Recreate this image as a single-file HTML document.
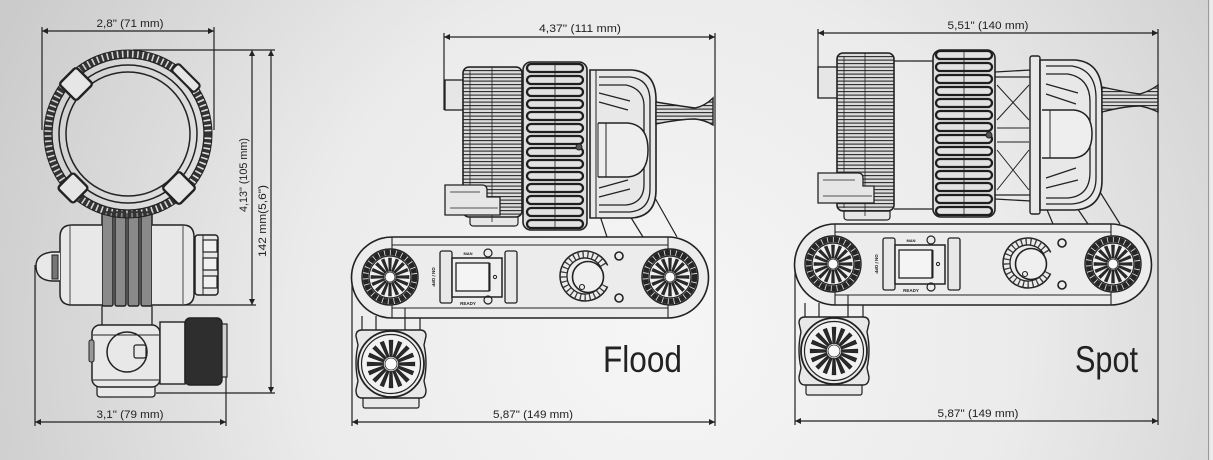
<!DOCTYPE html>
<html><head><meta charset="utf-8">
<style>
html,body{margin:0;padding:0;width:1213px;height:460px;overflow:hidden;background:#e4e4e4}
svg{display:block}
text{font-family:"Liberation Sans",sans-serif;fill:#222}
</style></head><body>
<svg width="1213" height="460" viewBox="0 0 1213 460" xmlns="http://www.w3.org/2000/svg">
<defs>
<radialGradient id="bg" cx="660" cy="330" r="720" gradientUnits="userSpaceOnUse">
<stop offset="0" stop-color="#f6f6f6"/>
<stop offset="0.5" stop-color="#ebebeb"/>
<stop offset="1" stop-color="#cbcbcb"/>
</radialGradient>
<marker id="ar" markerUnits="userSpaceOnUse" viewBox="0 0 10 10" refX="10" refY="5" markerWidth="8" markerHeight="6" orient="auto-start-reverse"><path d="M0,0L10,5L0,10z" fill="#222"/></marker>
<pattern id="hl" width="6" height="3.5" patternUnits="userSpaceOnUse"><rect width="6" height="3.5" fill="#dcdcdc"/><line x1="0" y1="0.6" x2="6" y2="0.6" stroke="#2a2a2a" stroke-width="1.1"/></pattern>
<path id="pet" d="M-0.9,-6 L-1.5,-19 L1.5,-19 L0.9,-6Z" fill="#2a2a2a" stroke="#222" stroke-width="0.6"/>
<g id="star">
<use href="#pet"/><use href="#pet" transform="rotate(22.5)"/><use href="#pet" transform="rotate(45)"/><use href="#pet" transform="rotate(67.5)"/>
<use href="#pet" transform="rotate(90)"/><use href="#pet" transform="rotate(112.5)"/><use href="#pet" transform="rotate(135)"/><use href="#pet" transform="rotate(157.5)"/>
<use href="#pet" transform="rotate(180)"/><use href="#pet" transform="rotate(202.5)"/><use href="#pet" transform="rotate(225)"/><use href="#pet" transform="rotate(247.5)"/>
<use href="#pet" transform="rotate(270)"/><use href="#pet" transform="rotate(292.5)"/><use href="#pet" transform="rotate(315)"/><use href="#pet" transform="rotate(337.5)"/>
</g>
<g id="knobA">
<circle r="28" fill="#e9e9e9" stroke="#222" stroke-width="1.4"/>
<circle r="24.5" fill="none" stroke="#262626" stroke-width="5.5" stroke-dasharray="5 0.8"/>
<circle r="21" fill="#f0f0f0" stroke="#222" stroke-width="1.2"/>
<use href="#star"/>
<circle r="5" fill="#fafafa" stroke="#222" stroke-width="0.8"/>
</g>
<g id="knobB">
<circle r="33" fill="#ececec" stroke="#222" stroke-width="1.8"/>
<circle r="29.5" fill="#f2f2f2" stroke="#222" stroke-width="1.2"/>
<use href="#star" transform="scale(1.25)"/>
<circle r="6" fill="#fafafa" stroke="#222" stroke-width="0.8"/>
</g>
<g id="ribs" fill="#e2e2e2" stroke="#1e1e1e" stroke-width="2.3">
<rect x="0" y="-4" width="56" height="8" rx="4"/><rect x="0" y="8" width="56" height="8" rx="4"/>
<rect x="0" y="20" width="56" height="8" rx="4"/><rect x="0" y="32" width="56" height="8" rx="4"/>
<rect x="0" y="44" width="56" height="8" rx="4"/><rect x="0" y="56" width="56" height="8" rx="4"/>
<rect x="0" y="68" width="56" height="8" rx="4"/><rect x="0" y="80" width="56" height="8" rx="4"/>
<rect x="0" y="92" width="56" height="8" rx="4"/><rect x="0" y="104" width="56" height="8" rx="4"/>
<rect x="0" y="116" width="56" height="8" rx="4"/><rect x="0" y="128" width="56" height="8" rx="4"/>
<rect x="0" y="140" width="56" height="8" rx="4"/><rect x="0" y="152" width="56" height="8" rx="4"/>
</g>
<g id="base" stroke="#222" fill="none">
<path d="M362,316 L362,332 M376,316 L376,334 M405,316 L405,334 M420,316 L420,332" stroke-width="1.2"/>
<rect x="363" y="396" width="56" height="12" rx="2" fill="#e8e8e8" stroke-width="1.2"/>
<path d="M362,330 L420,330 Q426,330 426,336 L424,345 Q428,363 424,381 L426,390 Q426,398 420,398 L362,398 Q356,398 356,390 L358,381 Q354,363 358,345 L356,336 Q356,330 362,330Z" fill="#e8e8e8" stroke-width="1.4"/>
<use href="#knobB" x="391" y="364"/>
<path d="M392,237 L668,237 A40.5,40.5 0 0 1 668,318 L392,318 A40.5,40.5 0 0 1 392,237Z" fill="#ececec" stroke-width="1.6"/>
<path d="M392,245 L668,245 M392,308 L668,308 M392,237 L392,250 M392,305 L392,318 M668,237 L668,250 M668,305 L668,318 M405,308 L405,318" stroke-width="1.1"/>
<use href="#knobA" x="390" y="277"/>
<use href="#knobA" x="670" y="277"/>
<rect x="440" y="251" width="12" height="52" rx="2" fill="#e8e8e8" stroke-width="1.3"/>
<rect x="505" y="251" width="12" height="52" rx="2" fill="#e8e8e8" stroke-width="1.3"/>
<rect x="452" y="258" width="50" height="39" fill="#eeeeee" stroke-width="1.5"/>
<rect x="456" y="263" width="33" height="28" fill="#f4f4f4" stroke-width="1.3"/>
<path d="M490,263 V291" stroke-width="1"/>
<circle cx="495" cy="277" r="1.6" stroke-width="1"/>
<circle cx="488" cy="253" r="4" stroke-width="1.2"/>
<circle cx="488" cy="300" r="4" stroke-width="1.2"/>
<g transform="translate(585,276)">
<path d="M22.66,10.57 A25,25 0 1 1 22.66,-10.57" stroke-width="1.5"/>
<path d="M19.48,9.09 A21.5,21.5 0 1 1 19.48,-9.09" stroke="#3a3a3a" stroke-width="7" stroke-dasharray="1.3 3.4"/>
<path d="M16.31,7.61 A18,18 0 1 1 16.31,-7.61" stroke-width="1.3"/>
<circle cx="3" cy="1" r="15.5" fill="#efefef" stroke-width="1.6"/>
<circle cx="-3" cy="11" r="2.5" stroke-width="1.1"/>
</g>
<circle cx="619" cy="256" r="4" stroke-width="1.6"/>
<circle cx="619" cy="298" r="4" stroke-width="1.6"/>
</g>
<g id="basetext">
<text x="468" y="255" font-size="4" text-anchor="middle" font-weight="bold">MAN</text>
<text x="468" y="305" font-size="4.5" text-anchor="middle" font-weight="bold">READY</text>
<text transform="translate(432,277) rotate(90)" font-size="4.5" text-anchor="middle" font-weight="bold">ON / OFF</text>
</g>
</defs>

<rect width="1213" height="460" fill="url(#bg)"/>
<rect x="1208" y="0" width="1.2" height="460" fill="#9a9a9a"/>
<rect x="1209.2" y="0" width="4" height="460" fill="#ececec"/>

<!-- ============ LEFT VIEW ============ -->
<g stroke="#222" fill="none">
<rect x="102" y="212" width="11" height="94" rx="2" fill="#8a8a8a" stroke-width="1.5"/>
<rect x="115" y="212" width="11" height="94" rx="2" fill="#8a8a8a" stroke-width="1.5"/>
<rect x="128" y="212" width="11" height="94" rx="2" fill="#8a8a8a" stroke-width="1.5"/>
<rect x="141" y="212" width="11" height="94" rx="2" fill="#8a8a8a" stroke-width="1.5"/>
<path d="M102,225 L72,225 Q60,225 60,237 L60,294 Q60,305 72,305 L102,305 M152,225 L183,225 Q194,225 194,237 L194,294 Q194,305 183,305 L152,305" fill="#e8e8e8" stroke-width="1.5"/>
<path d="M70,226 V304 M183,226 V304" stroke-width="0.8"/>
<path d="M60,252 L52,252 Q36,254 36,266 Q36,280 52,281 L60,281" fill="#e8e8e8" stroke-width="1.4"/>
<rect x="52" y="255" width="6" height="24" fill="#777" stroke-width="1"/>
<rect x="195" y="235" width="23" height="60" rx="3" fill="#e8e8e8" stroke-width="1.5"/>
<path d="M203,235 V295" stroke-width="1"/>
<rect x="203" y="240" width="14" height="12" fill="#f0f0f0" stroke-width="1.2"/>
<rect x="203" y="258" width="14" height="12" fill="#f0f0f0" stroke-width="1.2"/>
<rect x="203" y="276" width="14" height="12" fill="#f0f0f0" stroke-width="1.2"/>
<path d="M102,306 V325 M152,306 V325" stroke-width="1.3"/>
<rect x="97" y="384" width="58" height="13" rx="3" fill="#e8e8e8" stroke-width="1.3"/>
<rect x="92" y="325" width="68" height="62" rx="8" fill="#e8e8e8" stroke-width="1.5"/>
<path d="M93,335 H159 M93,380 H159" stroke-width="1"/>
<rect x="89" y="340" width="5" height="22" rx="2" fill="#999" stroke-width="1"/>
<circle cx="127" cy="352" r="20" stroke-width="1.5"/>
<rect x="134" y="345" width="12" height="13" rx="2" fill="#e8e8e8" stroke-width="1.2"/>
<rect x="160" y="322" width="25" height="62" fill="#e8e8e8" stroke-width="1.4"/>
<rect x="185" y="318" width="37" height="67" rx="5" fill="#2e2e2e" stroke-width="1.4"/>
<rect x="222" y="324" width="5" height="53" fill="#cfcfcf" stroke-width="1.2"/>
<circle cx="128" cy="134" r="80" stroke="#333" stroke-width="8" stroke-dasharray="3.5 1.6"/>
<circle cx="128" cy="134" r="84" stroke-width="1"/>
<circle cx="128" cy="134" r="76" stroke-width="1.3"/>
<circle cx="128" cy="134" r="69" stroke-width="1.5"/>
<circle cx="128" cy="134" r="62" stroke-width="1.5"/>
<rect x="-12" y="-12" width="24" height="24" rx="3" transform="translate(76,84) rotate(45)" fill="#e6e6e6" stroke-width="2.4"/>
<rect x="-16" y="-5" width="32" height="10" rx="3" transform="translate(186,78) rotate(45)" fill="#e6e6e6" stroke-width="2.2"/>
<rect x="-11" y="-11" width="22" height="22" rx="3" transform="translate(73,188) rotate(45)" fill="#e6e6e6" stroke-width="2.4"/>
<rect x="-12" y="-12" width="24" height="24" rx="3" transform="translate(179,188) rotate(45)" fill="#e6e6e6" stroke-width="2.4"/>
</g>
<g stroke="#222" stroke-width="1.2" fill="none">
<line x1="42" y1="31" x2="214" y2="31" marker-start="url(#ar)" marker-end="url(#ar)"/>
<path d="M42,27 V130 M214,27 V130 M133,50 H275 M185,305 H256 M156,393 H275 M35,265 V426 M226,377 V426"/>
<line x1="252" y1="50" x2="252" y2="305" marker-start="url(#ar)" marker-end="url(#ar)"/>
<line x1="271" y1="50" x2="271" y2="393" marker-start="url(#ar)" marker-end="url(#ar)"/>
<line x1="35" y1="422" x2="226" y2="422" marker-start="url(#ar)" marker-end="url(#ar)"/>
</g>
<text x="130" y="27" font-size="11" text-anchor="middle" textLength="67" lengthAdjust="spacingAndGlyphs">2,8" (71 mm)</text>
<text transform="translate(247,175) rotate(-90)" font-size="11" text-anchor="middle" textLength="74" lengthAdjust="spacingAndGlyphs">4,13" (105 mm)</text>
<text transform="translate(266,221) rotate(-90)" font-size="11" text-anchor="middle" textLength="72" lengthAdjust="spacingAndGlyphs">142 mm(5,6")</text>
<text x="130" y="418" font-size="11" text-anchor="middle" textLength="67" lengthAdjust="spacingAndGlyphs">3,1" (79 mm)</text>

<!-- ============ FLOOD ============ -->
<use href="#base"/>
<use href="#basetext"/>
<g stroke="#222" fill="none">
<path d="M600,216 L607,237 M630,216 L643,237 M655,198 L677,237" stroke-width="1.2"/>
<rect x="445" y="80" width="20" height="30" fill="#e6e6e6" stroke-width="1.3"/>
<rect x="470" y="212" width="48" height="14" rx="3" fill="#e6e6e6" stroke-width="1.2"/>
<rect x="463" y="67" width="59" height="150" rx="6" fill="url(#hl)" stroke-width="1.6"/>
<path d="M492,67 V222 M470,70 V214" stroke-width="0.8"/>
<path d="M445,185 L482,185 Q487,185 487,190 L487,197 L500,197 L500,215 L445,215 Z" fill="#e6e6e6" stroke-width="1.3"/>
<path d="M450,192 H480 M450,208 H498" stroke-width="0.8"/>
<rect x="523" y="62" width="64" height="168" rx="8" fill="#dedede" stroke-width="1.6"/>
<use href="#ribs" x="527" y="68"/>
<path d="M555,62 V230" stroke-width="0.8"/>
<circle cx="579" cy="147" r="3" fill="#555" stroke-width="1"/>
<path d="M590,70 L632,70 Q656,72 656,100 L656,190 Q656,216 632,218 L590,218 Z" fill="#e8e8e8" stroke-width="1.6"/>
<path d="M596,70 V218" stroke-width="1"/>
<path d="M599,77 L630,77 Q650,79 650,101 L650,189 Q650,210 630,212 L599,212" stroke-width="1.3"/>
<path d="M599,85 L626,85 Q644,89 644,106 L644,184 Q644,203 626,205 L599,205" stroke-width="1.3"/>
<path d="M599,93 L630,101 M599,102 L628,110 M599,197 L630,189 M599,188 L628,180" stroke-width="1.3"/>
<path d="M598,123 L628,123 Q648,125 648,150 Q648,175 628,177 L598,177" fill="#eeeeee" stroke-width="1.5"/>
<path d="M606,123 V177 M598,123 V177" stroke-width="1"/>
<path d="M656,102 Q680,106 695,108 Q705,106 713,98 L713,125 Q705,120 695,119 Q680,119 656,124 Z" fill="url(#hl)" stroke-width="1.4"/>
</g>
<g stroke="#222" stroke-width="1.2" fill="none">
<line x1="444" y1="37" x2="715" y2="37" marker-start="url(#ar)" marker-end="url(#ar)"/>
<path d="M444,33 V110 M715,33 V426 M352,282 V426"/>
<line x1="352" y1="422" x2="715" y2="422" marker-start="url(#ar)" marker-end="url(#ar)"/>
</g>
<text x="580" y="32" font-size="11" text-anchor="middle" textLength="82" lengthAdjust="spacingAndGlyphs">4,37" (111 mm)</text>
<text x="533" y="418" font-size="11" text-anchor="middle" textLength="80" lengthAdjust="spacingAndGlyphs">5,87" (149 mm)</text>
<text x="603" y="372" font-size="37" textLength="79" lengthAdjust="spacingAndGlyphs">Flood</text>

<!-- ============ SPOT ============ -->
<use href="#base" transform="translate(443,-13)"/>
<use href="#basetext" transform="translate(443,-13)"/>
<g stroke="#222" fill="none">
<path d="M1045,205 L1053,224 M1075,205 L1088,224 M1100,192 L1120,224" stroke-width="1.2"/>
<rect x="818" y="67" width="22" height="31" fill="#e6e6e6" stroke-width="1.3"/>
<rect x="844" y="208" width="46" height="12" rx="3" fill="#e6e6e6" stroke-width="1.2"/>
<rect x="837" y="53" width="57" height="158" rx="6" fill="url(#hl)" stroke-width="1.6"/>
<path d="M865,53 V216 M844,56 V208" stroke-width="0.8"/>
<path d="M818,173 L858,173 Q863,173 863,178 L863,186 L874,186 L874,203 L818,203 Z" fill="#e6e6e6" stroke-width="1.3"/>
<path d="M823,180 H855 M823,196 H872" stroke-width="0.8"/>
<path d="M894,61 H933 M894,209 H933" stroke-width="1.2"/>
<rect x="933" y="50" width="62" height="167" rx="8" fill="#dedede" stroke-width="1.6"/>
<use href="#ribs" x="936" y="55"/>
<path d="M964,50 V217" stroke-width="0.8"/>
<circle cx="989" cy="135" r="3" fill="#555" stroke-width="1"/>
<path d="M995,72 L1031,70 M995,77 L1031,77 M995,195 L1031,195 M995,199 L1031,201" stroke-width="1.3"/>
<path d="M997,85 L1029,120 M997,120 L1029,85 M997,150 L1029,190 M997,190 L1029,150 M997,128 H1029 M997,142 H1029" stroke-width="1"/>
<rect x="1030" y="56" width="10" height="158" rx="2" fill="#e8e8e8" stroke-width="1.4"/>
<path d="M1040,60 L1075,60 Q1102,62 1102,95 L1102,180 Q1102,208 1075,210 L1040,210 Z" fill="#e8e8e8" stroke-width="1.6"/>
<path d="M1046,66 L1072,66 Q1096,70 1096,98 L1096,178 Q1096,202 1072,204 L1046,204" stroke-width="1.3"/>
<path d="M1046,74 L1068,74 Q1090,78 1090,102 L1090,172 Q1090,196 1068,198 L1046,198" stroke-width="1.3"/>
<path d="M1046,84 L1078,93 M1046,94 L1076,104 M1046,188 L1078,180 M1046,178 L1076,168" stroke-width="1.3"/>
<path d="M1042,110 L1074,110 Q1092,112 1092,134 Q1092,156 1074,158 L1042,158" fill="#eeeeee" stroke-width="1.5"/>
<path d="M1050,110 V158" stroke-width="1"/>
<path d="M1102,87 Q1125,92 1140,94 Q1150,91 1158,85 L1158,112 Q1150,108 1140,106 Q1125,106 1102,112 Z" fill="url(#hl)" stroke-width="1.4"/>
</g>
<g stroke="#222" stroke-width="1.2" fill="none">
<line x1="818" y1="33" x2="1158" y2="33" marker-start="url(#ar)" marker-end="url(#ar)"/>
<path d="M818,29 V98 M1158,29 V425 M795,269 V425"/>
<line x1="795" y1="421" x2="1158" y2="421" marker-start="url(#ar)" marker-end="url(#ar)"/>
</g>
<text x="988" y="29" font-size="11" text-anchor="middle" textLength="81" lengthAdjust="spacingAndGlyphs">5,51" (140 mm)</text>
<text x="978" y="417" font-size="11" text-anchor="middle" textLength="81" lengthAdjust="spacingAndGlyphs">5,87" (149 mm)</text>
<text x="1075" y="372" font-size="37" textLength="63" lengthAdjust="spacingAndGlyphs">Spot</text>
</svg>
</body></html>
